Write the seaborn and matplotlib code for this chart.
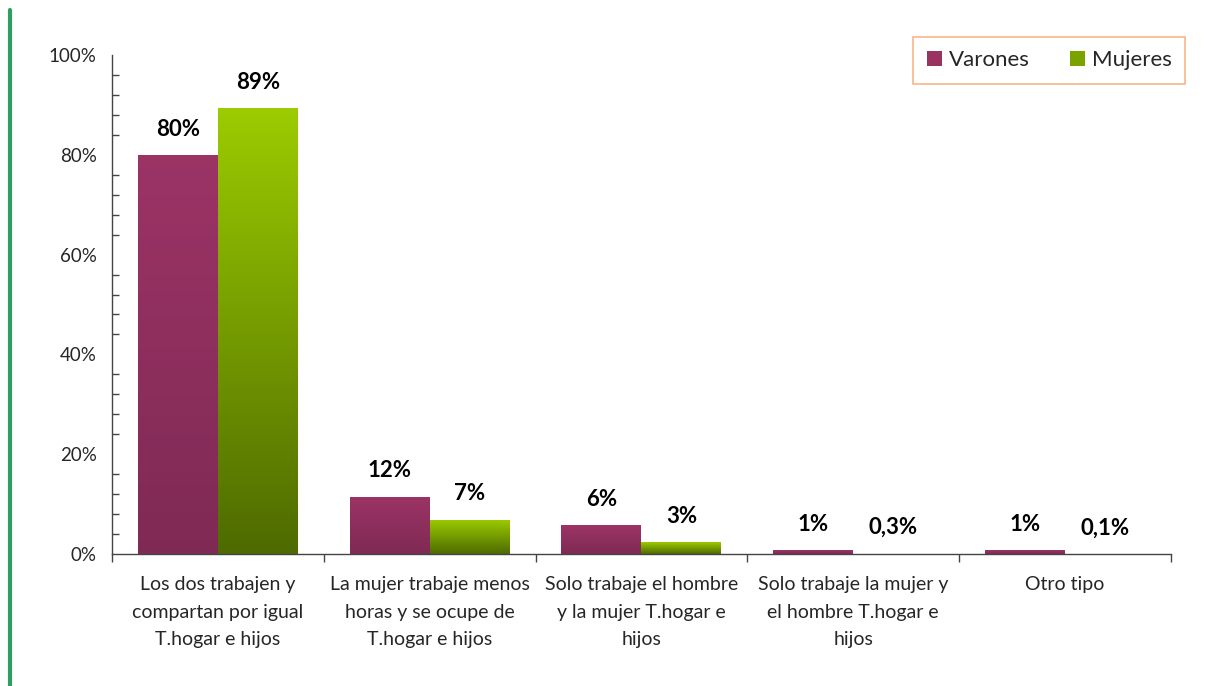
import numpy as np
import pandas as pd
import matplotlib.pyplot as plt
import seaborn as sns
from matplotlib.colors import LinearSegmentedColormap
from matplotlib.ticker import MultipleLocator, FuncFormatter
from matplotlib.lines import Line2D
from matplotlib.patches import Patch

categories = [
    "Los dos trabajen y\ncompartan por igual\nT.hogar e hijos",
    "La mujer trabaje menos\nhoras y se ocupe de\nT.hogar e hijos",
    "Solo trabaje el hombre\ny la mujer T.hogar e\nhijos",
    "Solo trabaje la mujer y\nel hombre T.hogar e\nhijos",
    "Otro tipo",
]
varones = [80.0, 11.5, 5.8, 0.8, 0.8]
mujeres = [89.3, 6.9, 2.4, 0.3, 0.1]
varones_labels = ["80%", "12%", "6%", "1%", "1%"]
mujeres_labels = ["89%", "7%", "3%", "0,3%", "0,1%"]
series = ["Varones", "Mujeres"]

df = pd.DataFrame({
    "cat": categories * 2,
    "val": varones + mujeres,
    "sexo": [series[0]] * 5 + [series[1]] * 5,
})

sns.set_style("white")
plt.rcParams["font.family"] = ["Lato", "DejaVu Sans"]

fig = plt.figure(figsize=(12.07, 6.86), dpi=100)
ax = fig.add_axes([0.0928, 0.1924, 0.8772, 0.7274])

palette = {"Varones": "#99335f", "Mujeres": "#8ab800"}
sns.barplot(data=df, x="cat", y="val", hue="sexo", palette=palette,
            width=0.755, ax=ax, edgecolor="white", linewidth=1.2,
            legend=False)

# vertical gradient fill for every bar
cmaps = {
    "Varones": LinearSegmentedColormap.from_list("v", ["#7f2a55", "#9c3466"]),
    "Mujeres": LinearSegmentedColormap.from_list("m", ["#4e6a00", "#9ccc00"]),
}
grad = np.linspace(0, 1, 256).reshape(-1, 1)
for cont, name in zip(ax.containers, series):
    for bar in cont:
        x0, y0 = bar.get_x(), bar.get_y()
        w, h = bar.get_width(), bar.get_height()
        bar.set_facecolor("none")
        if h < 0.5:
            continue
        im = ax.imshow(grad, cmap=cmaps[name], origin="lower", aspect="auto",
                       extent=[x0, x0 + w, y0, y0 + h], zorder=1.5)
        im.set_clip_path(bar)

# value labels
for cont, labs in zip(ax.containers, [varones_labels, mujeres_labels]):
    ax.bar_label(cont, labels=labs, padding=11, fontsize=16,
                 fontweight="bold", color="black")

ax.set_xlim(-0.5, 4.5)
ax.set_ylim(0, 100)
ax.set_xlabel("")
ax.set_ylabel("")

ax.yaxis.set_major_locator(MultipleLocator(20))
ax.yaxis.set_minor_locator(MultipleLocator(4))
ax.yaxis.set_major_formatter(FuncFormatter(lambda v, p: f"{v:.0f}%"))
ax.tick_params(axis="y", which="major", direction="inout", length=10,
               width=1, color="#444444", labelsize=13.5, pad=6)
ax.tick_params(axis="y", which="minor", direction="in", length=5,
               width=1, color="#444444", left=True)

ax.set_xticks(np.arange(-0.5, 5, 1), minor=True)
ax.tick_params(axis="x", which="major", length=0, labelsize=14, pad=16)
ax.tick_params(axis="x", which="minor", direction="out", length=6,
               width=1, color="#444444", bottom=True)
for lab in ax.get_xticklabels():
    lab.set_linespacing(1.75)

for side in ["top", "right"]:
    ax.spines[side].set_visible(False)
for side in ["left", "bottom"]:
    ax.spines[side].set_color("#444444")
    ax.spines[side].set_linewidth(1)

handles = [Patch(facecolor="#99335f", edgecolor="none"),
           Patch(facecolor="#7aa300", edgecolor="none")]
leg = fig.legend(handles, series, loc="upper right", ncol=2,
                 bbox_to_anchor=(0.982, 0.946), borderaxespad=0,
                 fontsize=16, frameon=True, fancybox=False,
                 handlelength=0.7, handleheight=0.7, handletextpad=0.3,
                 columnspacing=1.8, borderpad=0.6)
leg.get_frame().set_edgecolor("#f9a36b")
leg.get_frame().set_linewidth(1.2)

fig.add_artist(Line2D([0.0085, 0.0085], [0.0, 0.985], color="#2e9e62",
                      linewidth=3, transform=fig.transFigure))

fig.savefig("out.png", dpi=100)
